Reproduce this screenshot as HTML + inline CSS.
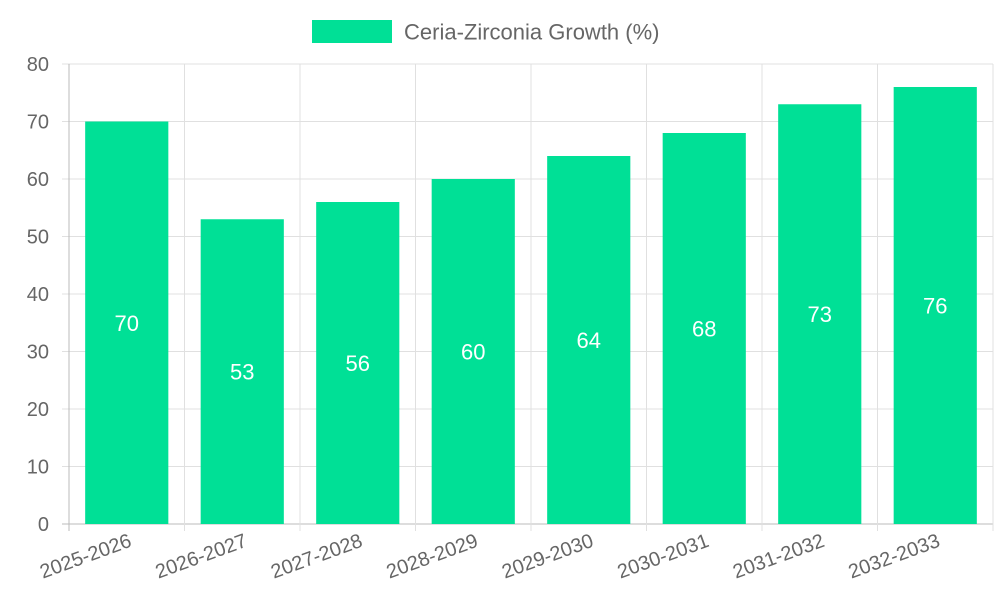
<!DOCTYPE html>
<html><head><meta charset="utf-8"><style>
body{margin:0;background:#fff;}
svg{display:block;font-family:"Liberation Sans",sans-serif;}
</style></head><body>
<svg id="chart" width="1000" height="600" viewBox="0 0 1000 600">
<g id="grid"></g>
<g id="bars"></g>
<g id="axes"></g>
<g>
<rect x="312" y="20" width="80" height="23" fill="#00e096"/>
<text x="404" y="39.5" font-size="22" fill="#666">Ceria-Zirconia Growth (%)</text>
</g>
</svg>
<script>
const categories=["2025-2026","2026-2027","2027-2028","2028-2029","2029-2030","2030-2031","2031-2032","2032-2033"];
const values=[70,53,56,60,64,68,73,76];
const yTicks=[0,10,20,30,40,50,60,70,80];
const L=69,R=993,T=64,B=524,yMax=80;
const NS="http://www.w3.org/2000/svg";
const bw=(R-L)/categories.length;
function y(v){return B-(v/yMax)*(B-T);}
function x(i){return L+i*bw;}
function mk(tag,attrs,parent){const e=document.createElementNS(NS,tag);for(const k in attrs)e.setAttribute(k,attrs[k]);parent.appendChild(e);return e;}
const grid=document.getElementById('grid'),bars=document.getElementById('bars'),axes=document.getElementById('axes');
yTicks.forEach(t=>{
 const l=mk('line',{x1:L-7,x2:R,y1:y(t),y2:y(t),stroke:t===0?'#bbb':'#e0e0e0','stroke-width':1},grid);
 
 
 const tx=mk('text',{x:L-20,y:y(t)+7,'text-anchor':'end','font-size':20,fill:'#666'},axes);
 tx.textContent=t;
 
 
});
for(let i=0;i<=categories.length;i++){
 const l=mk('line',{x1:x(i),x2:x(i),y1:T,y2:B+7,stroke:i===0?'#bbb':'#e0e0e0','stroke-width':1},grid);
 
 
}
categories.forEach((c,i)=>{
 const cx=x(i)+bw/2,w=bw*0.72;
 const r=mk('rect',{x:cx-w/2,y:y(values[i]),width:w,height:B-y(values[i]),fill:'#00e096'},bars);
 
 
 const v=mk('text',{x:cx,y:(y(values[i])+B)/2+8,'text-anchor':'middle','font-size':22,fill:'#fff'},bars);
 v.textContent=values[i];
 
 
 const lx=cx+6,ly=B+22;
 const t=mk('text',{x:lx,y:ly,'text-anchor':'end','font-size':20,fill:'#666',transform:`rotate(-20 ${lx} ${ly})`},axes);
 t.textContent=c;
 
 
});
</script>
</body></html>
